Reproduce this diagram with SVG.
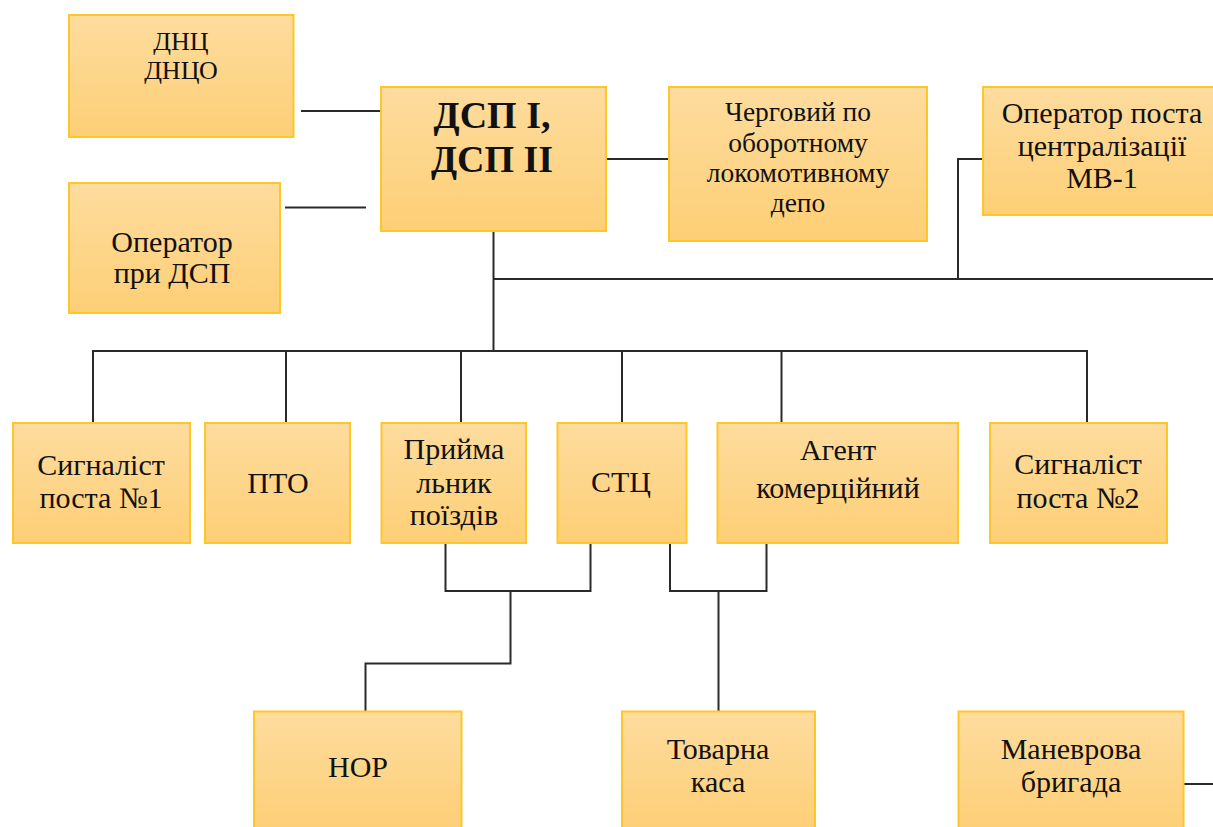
<svg xmlns="http://www.w3.org/2000/svg" width="1213" height="827" viewBox="0 0 1213 827">
<defs>
<linearGradient id="g" x1="0" y1="0" x2="0" y2="1">
<stop offset="0" stop-color="#FEDC9E"/>
<stop offset="1" stop-color="#FDCF76"/>
</linearGradient>
<style>
.box{fill:url(#g);stroke:#FFC629;stroke-width:2}
.t{font-family:"Liberation Serif","DejaVu Serif",serif;font-size:30px;fill:#111;text-anchor:middle}
.s{font-size:26px}
.m{font-size:27.5px}
.b{font-size:38px;font-weight:bold}
.c{fill:none;stroke:#2a2a2a;stroke-width:2}
</style>
</defs>
<rect width="1213" height="827" fill="#fff"/>
<g id="connectors">
<path class="c" d="M301 111H381"/>
<path class="c" d="M285 207.5H366"/>
<path class="c" d="M606 159H669"/>
<path class="c" d="M493.5 231V351"/>
<path class="c" d="M493.5 279H1213"/>
<path class="c" d="M958 279V159H983"/>
<path class="c" d="M93 423V351H1087V423"/>
<path class="c" d="M286 351V423"/>
<path class="c" d="M461 351V423"/>
<path class="c" d="M622 351V423"/>
<path class="c" d="M781.5 351V423"/>
<path class="c" d="M445.5 543V591H590.5V543"/>
<path class="c" d="M510.5 591V663.5H365.5V711"/>
<path class="c" d="M670 543V591H766.5V543"/>
<path class="c" d="M718.5 591V711"/>
<path class="c" d="M1183.5 784H1213"/>
</g>
<g id="n-dnc"><rect class="box" x="69" y="15" width="224.5" height="122"/>
<text class="t s" x="181" y="50">ДНЦ</text><text class="t s" x="181" y="79">ДНЦО</text></g>
<g id="n-oper"><rect class="box" x="69" y="183" width="211" height="130"/>
<text class="t" x="172" y="252">Оператор</text><text class="t" x="172" y="283">при ДСП</text></g>
<g id="n-dsp"><rect class="box" x="381" y="87" width="225" height="144"/>
<text class="t b" x="492" y="128">ДСП І,</text><text class="t b" x="492" y="172">ДСП ІІ</text></g>
<g id="n-depo"><rect class="box" x="669" y="87" width="258" height="154"/>
<text class="t m" x="798" y="121">Черговий по</text><text class="t m" x="798" y="152">оборотному</text><text class="t m" x="798" y="182">локомотивному</text><text class="t m" x="798" y="212">депо</text></g>
<g id="n-mv"><rect class="box" x="983" y="87" width="240" height="128"/>
<text class="t" x="1102" y="123">Оператор поста</text><text class="t" x="1102" y="156">централізації</text><text class="t" x="1102" y="188">МВ-1</text></g>
<g id="n-sig1"><rect class="box" x="13" y="423" width="177" height="120"/>
<text class="t" x="101" y="475">Сигналіст</text><text class="t" x="101" y="508">поста №1</text></g>
<g id="n-pto"><rect class="box" x="205" y="423" width="145" height="120"/>
<text class="t" x="278" y="493">ПТО</text></g>
<g id="n-pr"><rect class="box" x="381.5" y="423" width="144.5" height="120"/>
<text class="t" x="454" y="459">Прийма</text><text class="t" x="454" y="493">льник</text><text class="t" x="454" y="525">поїздів</text></g>
<g id="n-stc"><rect class="box" x="557.5" y="423" width="129" height="120"/>
<text class="t" x="621" y="492">СТЦ</text></g>
<g id="n-agent"><rect class="box" x="717.5" y="423" width="240.5" height="120"/>
<text class="t" x="838" y="460">Агент</text><text class="t" x="838" y="498">комерційний</text></g>
<g id="n-sig2"><rect class="box" x="990" y="423" width="177" height="120"/>
<text class="t" x="1078" y="474">Сигналіст</text><text class="t" x="1078" y="508">поста №2</text></g>
<g id="n-nor"><rect class="box" x="254" y="711.5" width="207.5" height="120"/>
<text class="t" x="358" y="777">НОР</text></g>
<g id="n-kasa"><rect class="box" x="622" y="711.5" width="193" height="120"/>
<text class="t" x="718" y="759">Товарна</text><text class="t" x="718" y="792">каса</text></g>
<g id="n-man"><rect class="box" x="958.5" y="711.5" width="225" height="120"/>
<text class="t" x="1071" y="759">Маневрова</text><text class="t" x="1071" y="792">бригада</text></g>
</svg>
